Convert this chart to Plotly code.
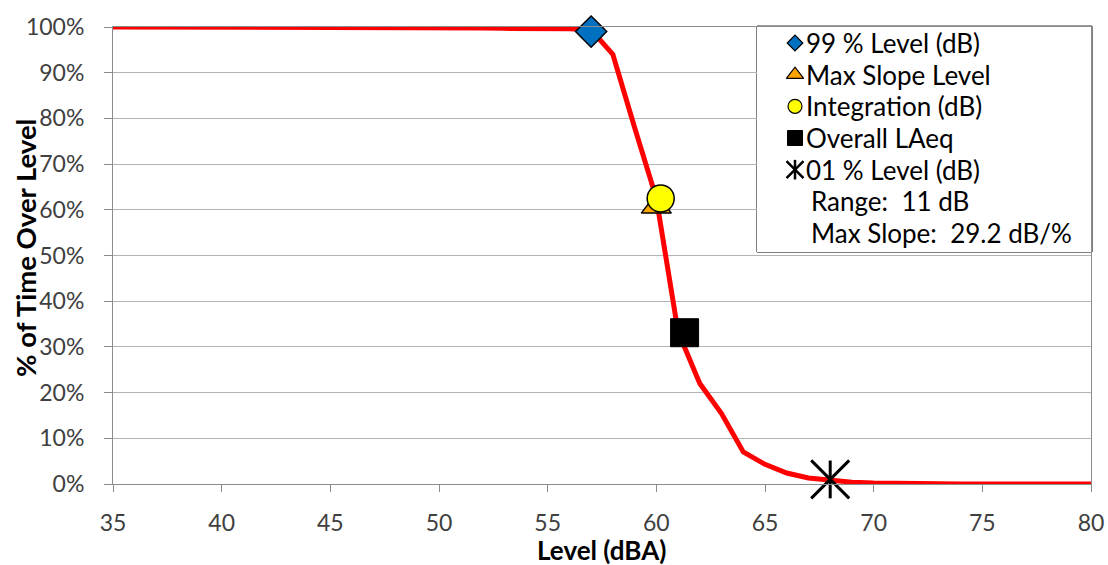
import plotly.graph_objects as go

# ---- data ----
levels = [35, 36, 37, 38, 39, 40, 41, 42, 43, 44, 45, 46, 47, 48, 49, 50,
          51, 52, 53, 54, 55, 56, 57, 58, 59, 60, 61, 62, 63, 64, 65, 66,
          67, 68, 69, 70, 71, 72, 73, 74, 75, 76, 77, 78, 79, 80]
pct_over = [100, 100, 100, 100, 100, 100, 100, 100, 100, 100, 100, 100, 100, 100, 100, 100,
            100, 99.8, 99.7, 99.7, 99.6, 99.6, 99.4, 94, 78, 62.5, 33.3, 22, 15.4, 7, 4.3, 2.4,
            1.3, 0.8, 0.4, 0.2, 0.1, 0, 0, 0, 0, 0, 0, 0, 0, 0]

l99_x, l99_y = [57.0], [99]
maxslope_x, maxslope_y = [60.0], [60.7]
integ_x, integ_y = [60.2], [62.5]
laeq_x, laeq_y = [61.3], [33.1]
l01_x, l01_y = [68.0], [1]

series_names = ["99 % Level (dB)", "Max Slope Level", "Integration (dB)",
                "Overall LAeq", "01 % Level (dB)"]
info_lines = ["Range:\u00a0 11 dB", "Max Slope:\u00a0 29.2 dB/%"]

x_ticks = [35, 40, 45, 50, 55, 60, 65, 70, 75, 80]
y_ticks = [0, 10, 20, 30, 40, 50, 60, 70, 80, 90, 100]

FONT = "Lato"
PL, PR, PT, PB = 113, 1091, 27, 484
W, H = 1108, 565


def px_x(p):
    return (p - PL) / (PR - PL)


def px_y(p):
    return (PB - p) / (PB - PT)


# marker styles: (symbol, colour, plot size, key size, outline width)
styles = [
    ("diamond", "#0070C0", 24, 12, 1.5),
    ("triangle-up", "#FFA500", 26, 15, 1.5),
    ("circle", "#FFFF00", 27, 14, 1.5),
    ("square", "#000000", 28, 15, 1),
    ("x-thin-open", "#000000", 38, 17, 3),
]
points = [(l99_x, l99_y), (maxslope_x, maxslope_y), (integ_x, integ_y),
          (laeq_x, laeq_y), (l01_x, l01_y)]

fig = go.Figure()
fig.add_trace(go.Scatter(x=levels, y=[v / 100 for v in pct_over], mode="lines",
                         line=dict(color="#FF0000", width=5), showlegend=False, hoverinfo="skip"))

for name, (sym, col, size, _, lw), (px, py) in zip(series_names, styles, points):
    fig.add_trace(go.Scatter(x=px, y=[v / 100 for v in py], mode="markers", name=name,
                             showlegend=False, cliponaxis=False,
                             marker=dict(symbol=sym, size=size, color=col,
                                         line=dict(color="black", width=lw))))
# vertical stroke completing the asterisk marker
fig.add_trace(go.Scatter(x=l01_x, y=[v / 100 for v in l01_y], mode="markers", showlegend=False,
                         cliponaxis=False,
                         marker=dict(symbol="line-ns-open", size=27, color="black",
                                     line=dict(color="black", width=3))))

# ---- key box (drawn on its own small axes) ----
rows = list(range(len(series_names) + len(info_lines)))
for i, (name, (sym, col, _, lsize, lw)) in enumerate(zip(series_names, styles)):
    fig.add_trace(go.Scatter(x=[0], y=[rows[i]], xaxis="x2", yaxis="y2", mode="markers",
                             showlegend=False, hoverinfo="skip", cliponaxis=False,
                             marker=dict(symbol=sym, size=lsize, color=col,
                                         line=dict(color="black", width=min(lw, 1.2) if sym != "x-thin-open" else 2.5))))
fig.add_trace(go.Scatter(x=[0], y=[rows[4]], xaxis="x2", yaxis="y2", mode="markers",
                         showlegend=False, hoverinfo="skip", cliponaxis=False,
                         marker=dict(symbol="line-ns-open", size=14, color="black",
                                     line=dict(color="black", width=2.5))))

annotations = []
for i, t in enumerate(series_names + info_lines):
    annotations.append(dict(text=t, xref="x2", yref="y2", x=9 if i < len(series_names) else 14,
                            y=rows[i], xanchor="left", yanchor="middle", showarrow=False,
                            font=dict(family=FONT, size=26, color="black")))

annotations += [
    dict(text="<b>Level (dBA)</b>", xref="paper", yref="paper",
         x=px_x(601), y=px_y(550), xanchor="center", yanchor="middle",
         showarrow=False, font=dict(family=FONT, size=26, color="black")),
    dict(text="<b>% of Time Over Level</b>", xref="paper", yref="paper",
         x=px_x(25), y=px_y(248), xanchor="center", yanchor="middle", textangle=-90,
         showarrow=False, font=dict(family=FONT, size=27.5, color="black")),
]

fig.add_shape(type="rect", xref="x2 domain", yref="y2 domain",
              x0=0, x1=1.003, y0=0, y1=1.004,
              line=dict(color="black", width=1), fillcolor="white", layer="below")

row_px = 31.67
fig.update_layout(
    width=W, height=H,
    margin=dict(l=PL, r=W - PR, t=PT, b=H - PB, autoexpand=False),
    paper_bgcolor="white", plot_bgcolor="white",
    font=dict(family=FONT, size=23, color="#404040"),
    showlegend=False,
    xaxis=dict(range=[35, 80], tickvals=x_ticks, ticktext=[str(v) for v in x_ticks],
               showgrid=False, zeroline=False, automargin=False,
               showline=True, linecolor="#8c8c8c", linewidth=1, mirror=True,
               ticks="outside", ticklen=7, tickcolor="#8c8c8c",
               tickfont=dict(family=FONT, size=23, color="#404040"),
               ticklabelstandoff=11),
    yaxis=dict(range=[0, 1], tickvals=[v / 100 for v in y_ticks],
               ticktext=[f"{v}%" for v in y_ticks], automargin=False,
               showgrid=True, gridcolor="#b3b3b3", gridwidth=1, zeroline=False,
               showline=True, linecolor="#8c8c8c", linewidth=1, mirror=True,
               ticks="outside", ticklen=8, tickcolor="#8c8c8c",
               tickfont=dict(family=FONT, size=23, color="#404040"),
               ticklabelstandoff=15),
    xaxis2=dict(domain=[px_x(757), 1.0], anchor="y2", visible=False, fixedrange=True,
                range=[757 - 795, 1091 - 795]),
    yaxis2=dict(domain=[px_y(252), 1.0], anchor="x2", visible=False, fixedrange=True,
                range=[rows[-1] + (252 - 233) / row_px, -(43 - 27) / row_px]),
    annotations=annotations,
)

fig.write_html("out.html", config={"displayModeBar": False},
               post_script="document.body.style.margin='0px';document.body.style.padding='0px';")
